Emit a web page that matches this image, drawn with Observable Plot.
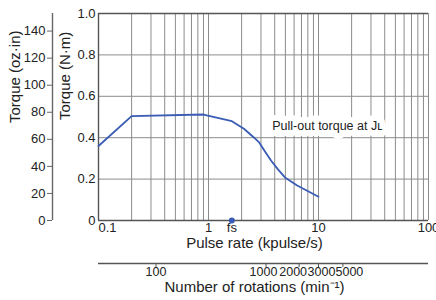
<!DOCTYPE html>
<html><head><meta charset="utf-8">
<script src="https://cdn.jsdelivr.net/npm/d3@7"></script>
<script src="https://cdn.jsdelivr.net/npm/@observablehq/plot@0.6"></script>
<style>body{margin:0;background:#fff}</style>
</head><body><div id="chart"></div>
<script>
// ---- data ----
const pulseRate = [0.1, 0.2, 0.9, 1.63, 2.1, 2.6, 2.9, 3.25, 3.7, 4.3, 5.0, 6.4, 10];
const torqueNm  = [0.36, 0.504, 0.512, 0.48, 0.443, 0.40, 0.376, 0.335, 0.29, 0.246, 0.206, 0.169, 0.115];
const fsPulse = [1.63];
const yTicksNm = [0, 0.2, 0.4, 0.6, 0.8, 1.0];
const ozTicks = [0, 20, 40, 60, 80, 100, 120, 140];
const OZ_AT_1NM = 153;            // oz·in value drawn level with 1.0 N·m on the left scale
const xTickLabels = [0.1, 1, 10, 100];
const gridMantissas = [1, 2, 3, 4, 5, 6, 7, 8, 9];
const gridDecades = [0.1, 1, 10];
const rotTicks = [100, 1000, 2000, 3000, 5000];
const ROT_PER_KPULSE = 300;       // min⁻¹ per kpulse/s
const curveLabel = ["Pull-out torque at J\u029F"];
const curveLabelAt = {p: 3.8, t: 0.455};

// ---- styles ----
const FONT = "'Liberation Sans',Arial,sans-serif";
const NUM_SIZE = 13, ROT_SIZE = 12.5, TITLE_SIZE = 15;
const gridColor = "#8c8c8c", frameColor = "#555", ink = "#222", blue = "#3a5cb4";

const xGrid = gridDecades.flatMap(d => gridMantissas.map(m => m * d)).concat([100]);
const curve = pulseRate.map((p, i) => ({p, t: torqueNm[i]}));
const rotNudge = [0, -2.5, -6, 3, 6.5];

const chart = Plot.plot({
  width: 436, height: 300,
  marginTop: 13, marginRight: 8, marginBottom: 80, marginLeft: 98,
  x: {type: "log", domain: [0.1, 100], axis: null},
  y: {domain: [0, 1], axis: null},
  style: {background: "white", color: ink, fontFamily: FONT, overflow: "hidden"},
  marks: [
    Plot.ruleX(xGrid, {stroke: gridColor, strokeWidth: 1}),
    Plot.ruleY(yTicksNm.filter(v => v > 0 && v < 1), {stroke: gridColor, strokeWidth: 1}),
    Plot.ruleY([0, 1], {stroke: frameColor, strokeWidth: 1.4}),
    Plot.ruleX([0.1], {stroke: frameColor, strokeWidth: 1.4}),
    Plot.text(curveLabel, {x: curveLabelAt.p, y: curveLabelAt.t, text: d => d, textAnchor: "start", lineAnchor: "middle",
      fontSize: 12.5, fill: ink, stroke: "white", strokeWidth: 12, strokeLinejoin: "round"}),
    Plot.line(curve, {x: "p", y: "t", stroke: blue, strokeWidth: 1.8}),
    Plot.dot(fsPulse, {x: d => d, y: 0, r: 3, fill: blue}),
    // N·m tick labels
    Plot.text(yTicksNm, {y: d => d, frameAnchor: "left", dx: -3, textAnchor: "end",
      text: d => d === 0 ? "0" : d.toFixed(1), fontSize: NUM_SIZE}),
    // oz·in axis
    Plot.ruleX([0.1], {dx: -46, stroke: "#666", strokeWidth: 1.4}),
    Plot.axisY(ozTicks.map(v => v / OZ_AT_1NM), {anchor: "left", dx: -46, tickSize: 5, tickPadding: 2,
      tickFormat: d => String(Math.round(d * OZ_AT_1NM)), label: null, stroke: "#666", fontSize: NUM_SIZE}),
    Plot.text(["Torque (N·m)"], {frameAnchor: "left", rotate: -90, dx: -33, dy: 3, fontSize: TITLE_SIZE, text: d => d}),
    Plot.text(["Torque (oz·in)"], {frameAnchor: "left", rotate: -90, dx: -83, dy: 6, fontSize: TITLE_SIZE, text: d => d}),
    // pulse-rate labels
    Plot.text([xTickLabels[0]], {x: d => d, frameAnchor: "bottom", dy: 11.5, textAnchor: "start",
      text: d => String(d), fontSize: NUM_SIZE}),
    Plot.text(xTickLabels.slice(1), {x: d => d, frameAnchor: "bottom", dy: 11.5,
      text: d => String(d), fontSize: NUM_SIZE}),
    Plot.text(fsPulse, {x: d => d, frameAnchor: "bottom", dy: 11.5, text: () => "fs", fontSize: NUM_SIZE}),
    Plot.text(["Pulse rate (kpulse/s)"], {frameAnchor: "bottom", dx: -9, dy: 27, fontSize: TITLE_SIZE, text: d => d}),
    // rotations axis
    Plot.ruleY([0], {dy: 43, stroke: frameColor, strokeWidth: 1.4}),
    Plot.axisX(rotTicks.map(r => r / ROT_PER_KPULSE), {anchor: "bottom", dy: 43, tickSize: 4, fill: "none",
      label: null, stroke: frameColor}),
    ...rotTicks.map((r, i) => Plot.text([r], {x: d => d / ROT_PER_KPULSE, frameAnchor: "bottom", dy: 55, dx: rotNudge[i],
      text: d => String(d), fontSize: ROT_SIZE})),
    Plot.text(["Number of rotations (min\u207B\u00B9)"], {frameAnchor: "bottom", dx: -9, dy: 71, fontSize: TITLE_SIZE, text: d => d})
  ]
});
document.getElementById("chart").appendChild(chart);
</script>
</body></html>
